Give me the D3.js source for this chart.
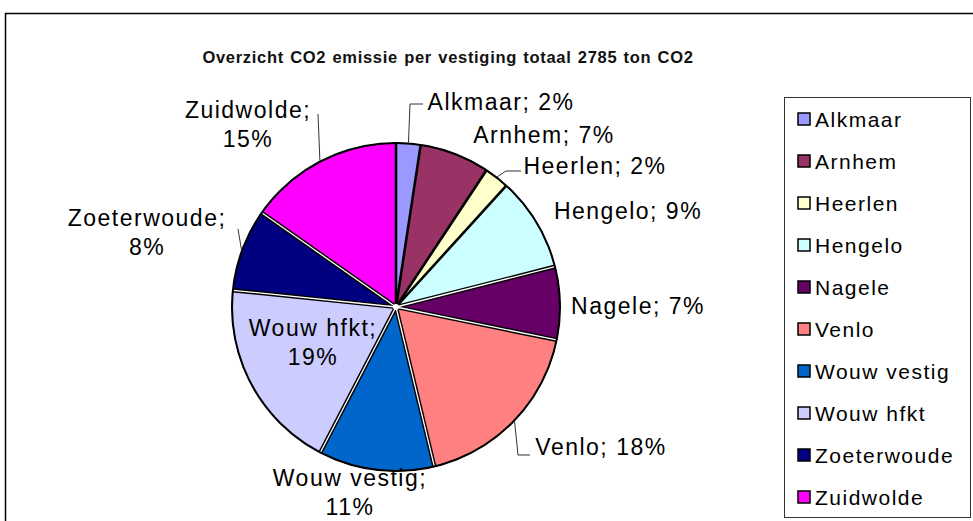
<!DOCTYPE html>
<html>
<head>
<meta charset="utf-8">
<script src="https://cdn.jsdelivr.net/npm/d3@7"></script>
<style>
  html, body { margin: 0; padding: 0; background: #fff; }
  svg { display: block; font-family: "Liberation Sans", Arial, sans-serif; }
</style>
</head>
<body>
<svg id="chart" width="973" height="521"></svg>
<script>
// ---- data ----
const titleText = "Overzicht CO2 emissie per vestiging totaal 2785 ton CO2";
const categories = ["Alkmaar", "Arnhem", "Heerlen", "Hengelo", "Nagele", "Venlo", "Wouw vestig", "Wouw hfkt", "Zoeterwoude", "Zuidwolde"];
const values = [67, 192, 68, 259, 200, 502, 317, 529, 226, 425]; // ton CO2 (estimated)
const colors = ["#9999FF", "#993366", "#FFFFCC", "#CCFFFF", "#660066", "#FF8080", "#0066CC", "#CCCCFF", "#000080", "#FF00FF"];
// whether the start edge of each slice shows the white separation seen in the original
const edgeGap = [false, false, false, false, true, true, true, true, true, true];

// label placement (manual, as in the original), text-centre x and first-line centre y
const labelLayout = [
  { x: 501, y: 102, lines: 1, leader: [[410, 104], [423, 104]] },
  { x: 544, y: 135, lines: 1 },
  { x: 595, y: 166, lines: 1, leader: [[506, 171], [521, 171]] },
  { x: 628, y: 211, lines: 1 },
  { x: 638, y: 306, lines: 1 },
  { x: 601, y: 447, lines: 1, leader: [[518, 455], [530, 455]] },
  { x: 350, y: 478, lines: 2 },
  { x: 313, y: 328, lines: 2 },
  { x: 147, y: 218, lines: 2, leader: [[238, 229]] },
  { x: 248, y: 110, lines: 2, leader: [[318, 114]] }
];

const svg = d3.select("#chart");

// outer frame
svg.append("rect").attr("x", 5.5).attr("y", 13.5).attr("width", 1000).attr("height", 600)
  .attr("fill", "#fff").attr("stroke", "#000").attr("stroke-width", 1.5);

// title
svg.append("text").attr("x", 448).attr("y", 63).attr("text-anchor", "middle")
  .attr("font-size", 16.5).attr("font-weight", "bold").attr("letter-spacing", 0.7)
  .attr("word-spacing", 1).attr("fill", "#111").text(titleText);

// pie
const cx = 396, cy = 307, R = 164;
const total = d3.sum(values);
const pie = d3.pie().sort(null).value(d => d)(values);
const arc = d3.arc().innerRadius(0).outerRadius(R);

const g = svg.append("g").attr("transform", `translate(${cx},${cy})`);
g.selectAll("path.slice").data(pie).join("path").attr("class", "slice")
  .attr("d", arc)
  .attr("fill", (d, i) => colors[i])
  .attr("stroke", "#000").attr("stroke-width", 1).attr("stroke-linejoin", "round");

// slice boundaries (black, with white separation on some edges)
const edgeLine = (a) => d3.line()([[0, 0], [R * Math.sin(a), -R * Math.cos(a)]]);
g.selectAll("path.edge").data(pie).join("path").attr("class", "edge")
  .attr("d", d => edgeLine(d.startAngle))
  .attr("stroke", "#000").attr("stroke-width", (d, i) => edgeGap[i] ? 4.2 : 2.6)
  .attr("stroke-linecap", "butt");
g.selectAll("path.gap").data(pie.filter((d, i) => edgeGap[i])).join("path").attr("class", "gap")
  .attr("d", d => edgeLine(d.startAngle))
  .attr("stroke", "#fff").attr("stroke-width", 1.3);
// outer rim
g.append("circle").attr("r", R).attr("fill", "none").attr("stroke", "#000").attr("stroke-width", 2);
g.append("circle").attr("r", 3).attr("fill", "#fff");

// leaders
pie.forEach((d, i) => {
  const L = labelLayout[i];
  if (!L.leader) return;
  const a = (d.startAngle + d.endAngle) / 2;
  const px = cx + (R + 1) * Math.sin(a);
  const py = cy - (R + 1) * Math.cos(a);
  const pts = [[px, py]].concat(L.leader);
  svg.append("path").attr("d", d3.line()(pts))
    .attr("fill", "none").attr("stroke", "#333").attr("stroke-width", 1);
});

// labels
const fs = 23;
pie.forEach((d, i) => {
  const L = labelLayout[i];
  const pct = Math.round(d.value / total * 100) + "%";
  const t = svg.append("text").attr("text-anchor", "middle")
    .attr("font-size", fs).attr("letter-spacing", 1.5).attr("fill", "#000");
  if (L.lines === 1) {
    t.append("tspan").attr("x", L.x).attr("y", L.y + 8).text(categories[i] + "; " + pct);
  } else {
    t.append("tspan").attr("x", L.x).attr("y", L.y + 8).text(categories[i] + ";");
    t.append("tspan").attr("x", L.x).attr("y", L.y + 8 + 29).text(pct);
  }
});

// legend
const lg = svg.append("g");
lg.append("rect").attr("x", 784.5).attr("y", 97.5).attr("width", 186).attr("height", 420)
  .attr("fill", "#fff").attr("stroke", "#333").attr("stroke-width", 1);
const items = lg.selectAll("g.item").data(categories).join("g").attr("class", "item")
  .attr("transform", (d, i) => `translate(0,${119 + i * 42})`);
items.append("rect").attr("x", 798).attr("y", -6).attr("width", 12).attr("height", 12)
  .attr("fill", (d, i) => colors[i]).attr("stroke", "#000").attr("stroke-width", 1.5);
items.append("text").attr("x", 815).attr("y", 7.5).attr("font-size", 21).attr("letter-spacing", 1.5)
  .attr("fill", "#000").text(d => d);
</script>
</body>
</html>
